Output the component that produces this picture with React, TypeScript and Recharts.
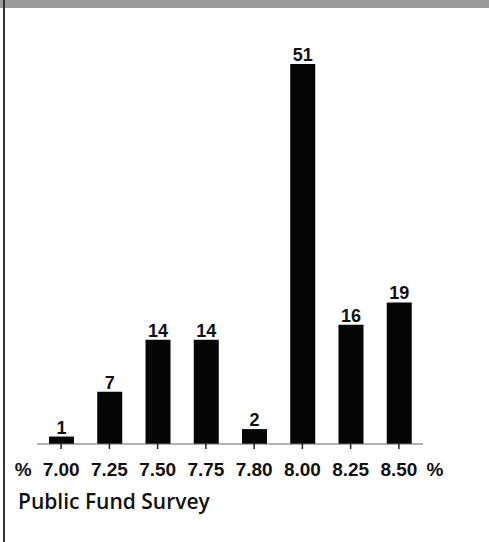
import { Bar, BarChart, LabelList, XAxis, YAxis } from "recharts";

const rates = ["7.00", "7.25", "7.50", "7.75", "7.80", "8.00", "8.25", "8.50"];
const counts = [1, 7, 14, 14, 2, 51, 16, 19];
const unitMark = "%";
const surveyTitle = "Public Fund Survey";

const data = rates.map((rate, i) => ({ rate, count: counts[i] }));

const labelFont = "'Liberation Sans', Arial, sans-serif";

function RateTick(props: any) {
  const { x, y, payload, index } = props;
  const base = y + 25;
  return (
    <g>
      {index === 0 && (
        <text x={x - 38} y={base} textAnchor="middle" fontSize={19} fontWeight="bold" fontFamily={labelFont} fill="#111">
          {unitMark}
        </text>
      )}
      <text x={x} y={base} textAnchor="middle" fontSize={19} fontWeight="bold" fontFamily={labelFont} fill="#111">
        {payload.value}
      </text>
      {index === rates.length - 1 && (
        <text x={x + 36} y={base} textAnchor="middle" fontSize={19} fontWeight="bold" fontFamily={labelFont} fill="#111">
          {unitMark}
        </text>
      )}
    </g>
  );
}

export default function App() {
  return (
    <div style={{ position: "absolute", left: 0, top: 0, width: 489, height: 542, background: "#fff" }}>
      {/* scanned page edge */}
      <div style={{ position: "absolute", left: 0, top: 0, width: 489, height: 8, background: "#9a9a9a" }} />
      <div style={{ position: "absolute", left: 3, top: 0, width: 2, height: 542, background: "#333" }} />

      <BarChart
        width={489}
        height={542}
        data={data}
        margin={{ top: 64, right: 66, left: 37, bottom: 68 }}
        barCategoryGap={0}
      >
        <YAxis hide domain={[0, 51]} />
        <XAxis
          dataKey="rate"
          interval={0}
          height={30}
          axisLine={{ stroke: "#666", strokeWidth: 1 }}
          tickLine={{ stroke: "#222", strokeWidth: 1.5 }}
          tickSize={5}
          tick={<RateTick />}
        />
        <Bar dataKey="count" fill="#050505" barSize={25} isAnimationActive={false}>
          <LabelList
            dataKey="count"
            position="top"
            offset={3}
            fill="#111"
            fontSize={18}
            fontWeight="bold"
            fontFamily={labelFont}
          />
        </Bar>
      </BarChart>

      <div
        style={{
          position: "absolute",
          left: 18,
          top: 487,
          fontFamily: "'Open Sans', sans-serif",
          fontSize: 21,
          fontWeight: 600,
          color: "#111",
          whiteSpace: "nowrap",
        }}
      >
        {surveyTitle}
      </div>
    </div>
  );
}
